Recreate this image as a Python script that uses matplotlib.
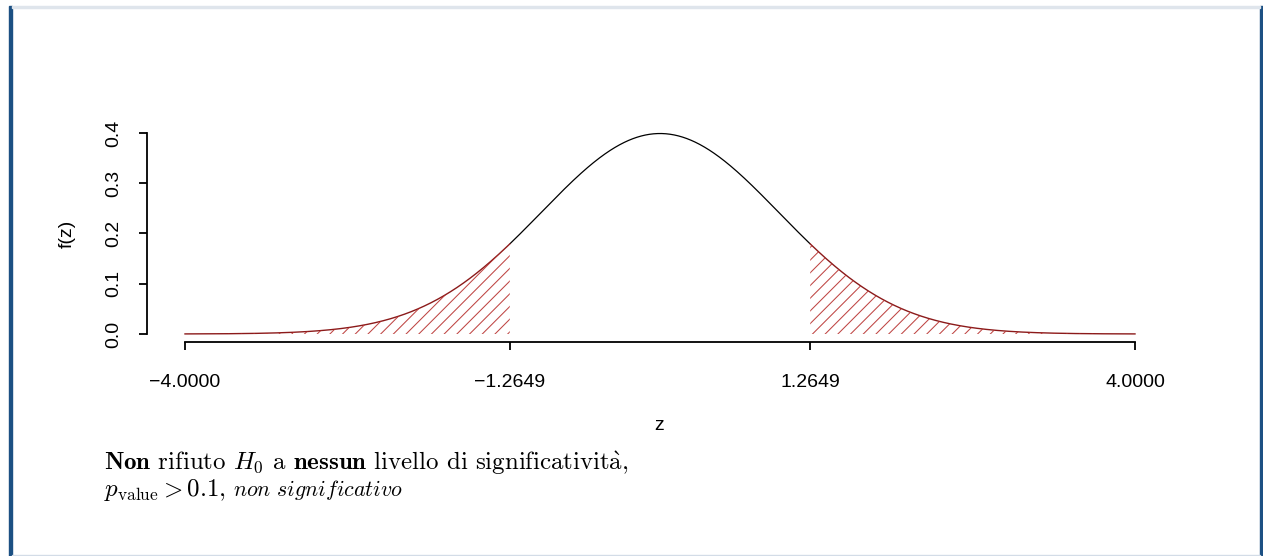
import numpy as np
import matplotlib
matplotlib.use("Agg")
import matplotlib.pyplot as plt
from matplotlib.patches import Polygon, Rectangle

# ---- data ----
z_limits = [-4.0, 4.0]
z_crit = 1.2649
x_ticks = [-4.0, -1.2649, 1.2649, 4.0]
x_tick_labels = ["\u22124.0000", "\u22121.2649", "1.2649", "4.0000"]
y_ticks = [0.0, 0.1, 0.2, 0.3, 0.4]
y_tick_labels = ["0.0", "0.1", "0.2", "0.3", "0.4"]
line1 = r"$\mathbf{Non}$ rifiuto $H_0$ a $\mathbf{nessun}$ livello di significativit$\mathrm{\grave{a}}$,"
line2a = r"$p_{\mathrm{value}} > 0.1$, "
line2b = r"$\mathit{non\ significativo}$"

W, H = 1263, 556
plt.rcParams["mathtext.fontset"] = "cm"
fig = plt.figure(figsize=(W / 100, H / 100), dpi=100)
fig.patch.set_facecolor("white")

def fx(px):
    return px / W

def fy(py):
    return 1 - py / H

# frame decorations
blue = "#1c5083"
fig.patches.append(Rectangle((fx(9), 0), fx(3), fy(6), transform=fig.transFigure, color=blue, zorder=0))
fig.patches.append(Rectangle((fx(1260), 0), fx(3), fy(6), transform=fig.transFigure, color=blue, zorder=0))
fig.patches.append(Rectangle((fx(12), fy(7.5)), fx(1248), 1.5 / H, transform=fig.transFigure, color="#dfe5ec", zorder=0))
fig.patches.append(Rectangle((fx(12), 0), fx(1248), 1.5 / H, transform=fig.transFigure, color="#d3dce7", zorder=0))

# axes (plot region with R-style 4% expansion)
ax = fig.add_axes([fx(147), fy(342), fx(1173) - fx(147), fy(125.5) - fy(342)])
ax.patch.set_alpha(0)
z = np.linspace(z_limits[0], z_limits[1], 1601)
f = np.exp(-z ** 2 / 2) / np.sqrt(2 * np.pi)
xr = z_limits[1] - z_limits[0]
ax.set_xlim(z_limits[0] - 0.04 * xr, z_limits[1] + 0.04 * xr)
ax.set_ylim(-0.04 * f.max(), f.max() * 1.04)

mid = (z >= -z_crit) & (z <= z_crit)
left = z <= -z_crit
right = z >= z_crit
ax.plot(z[mid], f[mid], color="black", lw=0.9)
ax.plot(z[left], f[left], color="#8b1a1a", lw=1.0)
ax.plot(z[right], f[right], color="#8b1a1a", lw=1.0)

# hatching (R-style density lines)
hatch_color = "#b8312f"
spacing = 12.7
anchor_x, anchor_y = 506.7, H - 335
inv = ax.transData.inverted()
for mask in (left, right):
    zz = z[mask]
    ff = f[mask]
    verts = np.column_stack([np.r_[zz, zz[-1], zz[0]], np.r_[ff, 0, 0]])
    poly = Polygon(verts, closed=True, facecolor="none", edgecolor="none", transform=ax.transData)
    ax.add_patch(poly)
    disp = ax.transData.transform(verts)
    x0d, x1d = disp[:, 0].min(), disp[:, 0].max()
    y0d, y1d = disp[:, 1].min(), disp[:, 1].max()
    kmin = int(np.floor((x0d - (y1d - anchor_y) - anchor_x) / spacing)) - 1
    kmax = int(np.ceil((x1d - (y0d - anchor_y) - anchor_x) / spacing)) + 1
    for k in range(kmin, kmax + 1):
        c = anchor_x + k * spacing - anchor_y
        p = inv.transform([[c + y0d, y0d], [c + y1d, y1d]])
        ln, = ax.plot(p[:, 0], p[:, 1], color=hatch_color, lw=0.75, alpha=0.9)
        ln.set_clip_path(poly)

# axes styling
for s in ("top", "right"):
    ax.spines[s].set_visible(False)
ax.spines["left"].set_bounds(y_ticks[0], y_ticks[-1])
ax.spines["bottom"].set_bounds(x_ticks[0], x_ticks[-1])
for s in ("left", "bottom"):
    ax.spines[s].set_linewidth(1.3)
ax.set_xticks(x_ticks)
ax.set_xticklabels(x_tick_labels, fontfamily="Liberation Sans", fontsize=14)
ax.set_yticks(y_ticks)
ax.set_yticklabels(y_tick_labels, fontfamily="Liberation Sans", fontsize=14, rotation=90, va="center")
ax.tick_params(axis="both", length=5.5, width=1.3, color="black")
ax.tick_params(axis="x", pad=17.5)
ax.tick_params(axis="y", pad=12)

fig.text(fx(659.5), fy(425), "z", ha="center", va="center", fontfamily="Liberation Sans", fontsize=14)
fig.text(fx(67), fy(233.5), "f(z)", ha="center", va="center", rotation=90, fontfamily="Liberation Sans", fontsize=14)

fam = ["cmr10", "DejaVu Serif"]
fig.text(fx(104), fy(470), line1, ha="left", va="baseline", fontsize=17.9, family=fam)
t2 = fig.text(fx(104), fy(496), line2a, ha="left", va="baseline", fontsize=17.9, family=fam)
fig.canvas.draw()
bb = t2.get_window_extent(renderer=fig.canvas.get_renderer())
fig.text(fx(bb.x1 + 5), fy(496), line2b, ha="left", va="baseline", fontsize=15.8, family=fam)

fig.savefig("out.png", dpi=100)
